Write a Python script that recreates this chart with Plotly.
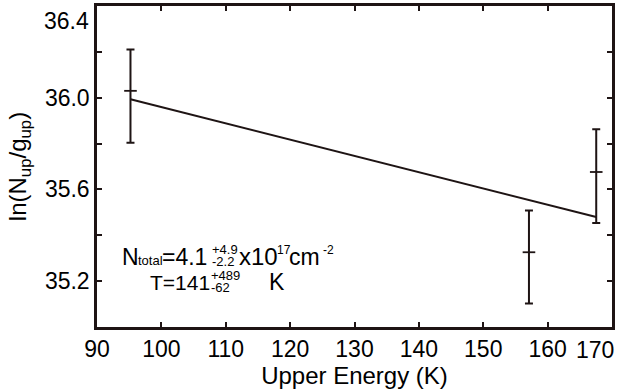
import plotly.graph_objects as go

# ---- data ----
energy = [95.2, 157.1, 167.55]
ln_ratio = [36.03, 35.326, 35.676]
err_plus = [0.18, 0.182, 0.186]
err_minus = [0.226, 0.223, 0.222]
fit_x = [95.2, 167.55]
fit_y = [35.993, 35.48]
x_ticks = [90, 100, 110, 120, 130, 140, 150, 160]
y_ticks = [35.2, 35.6, 36.0]
y_ticklabels = ["35.2", "35.6", "36.0"]
y_minor = [35.4, 35.8, 36.2]

INK = "#1e1414"
FONT = "Liberation Sans, Arial, sans-serif"

W, H = 637, 392
L, R, T, B = 97, 25, 3, 65
X0, X1 = 90, 170
Y0, Y1 = 35.0, 36.4


def px2x(px):
    return X0 + (px - L) / (W - L - R) * (X1 - X0)


def py2y(py):
    return Y1 - (py - T) / (H - T - B) * (Y1 - Y0)


fig = go.Figure()
fig.add_trace(go.Scatter(
    x=fit_x, y=fit_y, mode="lines",
    line=dict(color=INK, width=2), showlegend=False, hoverinfo="skip"))
fig.add_trace(go.Scatter(
    x=energy, y=ln_ratio, mode="markers",
    marker=dict(symbol="line-ew", size=9, color=INK,
                line=dict(color=INK, width=1.8)),
    error_y=dict(type="data", symmetric=False, array=err_plus,
                 arrayminus=err_minus, color=INK, thickness=2, width=4),
    showlegend=False))

axis_common = dict(
    showline=True, linecolor=INK, linewidth=2.5, mirror="ticks",
    ticks="inside", ticklen=5, tickwidth=1.5, tickcolor=INK,
    showgrid=False, zeroline=False,
    tickfont=dict(family=FONT, size=23, color="black"),
)

fig.update_xaxes(
    range=[X0, X1], tickvals=x_ticks,
    title=dict(text="Upper Energy (K)", font=dict(family=FONT, size=24, color="black"), standoff=1),
    **axis_common)
fig.update_yaxes(
    range=[Y0, Y1], tickvals=y_ticks, ticktext=y_ticklabels,
    minor=dict(tickvals=y_minor, ticks="inside", ticklen=5,
               tickwidth=1.5, tickcolor=INK, showgrid=False),
    title=dict(text="ln(N<sub>up</sub>/g<sub>up</sub>)", font=dict(family=FONT, size=24, color="black"), standoff=12),
    **axis_common)

ann = []
# edge tick labels, placed as in the reference
ann.append(dict(x=170, y=0, xref="x", yref="paper", text="170", showarrow=False,
                xanchor="center", yanchor="top", xshift=-17, yshift=-8,
                font=dict(family=FONT, size=23, color="black")))
ann.append(dict(x=0, y=36.4, xref="paper", yref="y", text="36.4", showarrow=False,
                xanchor="right", yanchor="middle", xshift=-6, yshift=-15,
                font=dict(family=FONT, size=23, color="black")))


def txt(px, py, s, size):
    ann.append(dict(x=px2x(px), y=py2y(py), xref="x", yref="y", text=s,
                    showarrow=False, xanchor="left", yanchor="middle",
                    borderpad=0,
                    font=dict(family=FONT, size=size, color="black")))


# line 1
txt(121, 256, "N", 23)
txt(137, 260, "total", 13)
txt(161, 256, "=4.1", 23)
txt(211, 249, "+4.9", 13)
txt(211, 261, "-2.2", 13)
txt(238, 256, "x10", 24)
txt(276, 249, "17", 12)
txt(288, 256, "cm", 23)
txt(322, 249, "-2", 12)
# line 2
txt(149, 282, "T=141", 21)
txt(210, 275, "+489", 13)
txt(210, 287, "-62", 13)
txt(268, 282, "K", 23)

fig.update_layout(
    width=W, height=H, margin=dict(l=L, r=R, t=T, b=B),
    paper_bgcolor="white", plot_bgcolor="white",
    annotations=ann,
)

fig.write_html("out.html", config={"displayModeBar": False},
               post_script="document.body.style.margin='0';")
